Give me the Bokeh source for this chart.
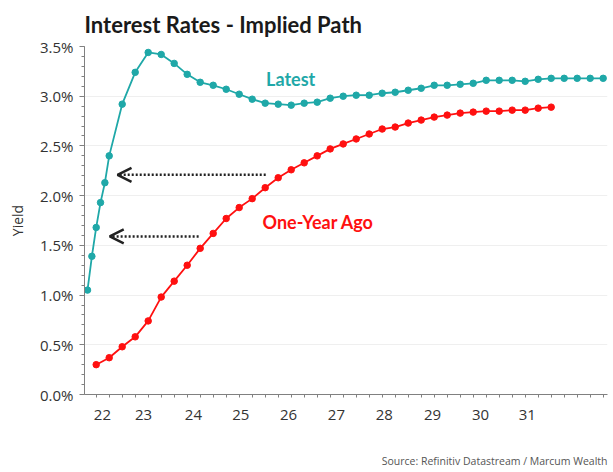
import numpy as np
from bokeh.plotting import figure
from bokeh.models import (FixedTicker, Label, Arrow, OpenHead, Range1d,
                          CustomJSTickFormatter, Title)
from bokeh.embed import file_html
from bokeh.resources import INLINE

# ---- data (x in fractional years, y in %) ----
latest_x = [21.833, 21.917, 22.0, 22.083, 22.167, 22.25,
            22.5, 22.75, 23.0, 23.25, 23.5, 23.75, 24.0, 24.25, 24.5, 24.75,
            25.0, 25.25, 25.5, 25.75, 26.0, 26.25, 26.5, 26.75, 27.0, 27.25,
            27.5, 27.75, 28.0, 28.25, 28.5, 28.75, 29.0, 29.25, 29.5, 29.75,
            30.0, 30.25, 30.5, 30.75, 31.0, 31.25, 31.5, 31.75]
latest_y = [1.05, 1.39, 1.68, 1.93, 2.13, 2.40,
            2.92, 3.24, 3.44, 3.42, 3.33, 3.22, 3.14, 3.11, 3.07, 3.02,
            2.97, 2.93, 2.92, 2.91, 2.93, 2.94, 2.98, 3.00, 3.01, 3.01,
            3.03, 3.04, 3.06, 3.08, 3.11, 3.11, 3.12, 3.13, 3.16, 3.16,
            3.16, 3.15, 3.17, 3.18, 3.18, 3.18, 3.18, 3.18]

ago_x = [22.0, 22.25, 22.5, 22.75, 23.0, 23.25, 23.5, 23.75, 24.0, 24.25,
         24.5, 24.75, 25.0, 25.25, 25.5, 25.75, 26.0, 26.25, 26.5, 26.75,
         27.0, 27.25, 27.5, 27.75, 28.0, 28.25, 28.5, 28.75, 29.0, 29.25,
         29.5, 29.75, 30.0, 30.25, 30.5, 30.75]
ago_y = [0.30, 0.37, 0.48, 0.58, 0.74, 0.98, 1.14, 1.30, 1.47, 1.62,
         1.77, 1.88, 1.97, 2.08, 2.18, 2.26, 2.33, 2.40, 2.47, 2.52,
         2.57, 2.62, 2.67, 2.69, 2.73, 2.76, 2.79, 2.81, 2.83, 2.84,
         2.85, 2.85, 2.86, 2.86, 2.88, 2.89]

x_tick_pos = [22.12, 22.91, 23.87, 24.78, 25.70, 26.62, 27.54, 28.47, 29.39, 30.29]
x_tick_labels = ["22", "23", "24", "25", "26", "27", "28", "29", "30", "31"]
y_ticks = [0.0, 0.5, 1.0, 1.5, 2.0, 2.5, 3.0, 3.5]

TEAL = "#1FA8A8"
RED = "#FF1010"
FONT = "Open Sans"

p = figure(width=613, height=472, output_backend="svg", toolbar_location=None,
           x_range=Range1d(21.775, 31.833), y_range=Range1d(0, 3.5),
           min_border_left=84, min_border_right=6, min_border_top=45,
           min_border_bottom=75)
p.outline_line_color = None
p.background_fill_color = "white"

p.title.text = "Interest Rates - Implied Path"
p.title.text_font = "Lato"
p.title.text_font_size = "22px"
p.title.text_font_style = "bold"
p.title.text_color = "#1a1a1a"
p.title.align = "left"
p.title.standoff = 17

# lines
p.line(latest_x, latest_y, line_color=TEAL, line_width=1.8)
p.scatter(latest_x, latest_y, size=6.5, fill_color=TEAL, line_color=TEAL)
p.line(ago_x, ago_y, line_color=RED, line_width=1.8)
p.scatter(ago_x, ago_y, size=6.5, fill_color=RED, line_color=RED)

# axes
minor_q = list(np.arange(21.75, 31.9, 0.25))
p.xaxis.ticker = FixedTicker(ticks=x_tick_pos, minor_ticks=minor_q)
p.xaxis.major_label_overrides = {t: l for t, l in zip(x_tick_pos, x_tick_labels)}
p.xaxis.major_tick_line_color = None
p.xaxis.minor_tick_out = 3
p.xaxis.minor_tick_in = 0
p.xaxis.minor_tick_line_color = "#808080"
p.xaxis.axis_line_color = "#808080"
p.xaxis.major_label_text_font = FONT
p.xaxis.major_label_text_font_size = "15px"
p.xaxis.major_label_text_color = "#333333"
p.xaxis.major_label_standoff = 9
# blank axis label used only as vertical spacing above the source note
p.xaxis.axis_label = " "
p.xaxis.axis_label_text_font_size = "10px"
p.xaxis.axis_label_standoff = 10

p.yaxis.ticker = FixedTicker(ticks=y_ticks, minor_ticks=list(np.arange(0, 3.51, 0.1)))
p.yaxis.formatter = CustomJSTickFormatter(code="return tick.toFixed(1) + '%';")
p.yaxis.axis_line_color = "#808080"
p.yaxis.major_tick_line_color = "#808080"
p.yaxis.major_tick_out = 5
p.yaxis.major_tick_in = 0
p.yaxis.minor_tick_out = 3
p.yaxis.minor_tick_in = 0
p.yaxis.minor_tick_line_color = "#808080"
p.yaxis.major_label_text_font = FONT
p.yaxis.major_label_text_font_size = "15px"
p.yaxis.major_label_text_color = "#333333"
p.yaxis.major_label_standoff = 6
p.yaxis.axis_label = "Yield"
p.yaxis.axis_label_text_font = FONT
p.yaxis.axis_label_text_font_size = "14px"
p.yaxis.axis_label_text_font_style = "normal"
p.yaxis.axis_label_text_color = "#333333"
p.yaxis.axis_label_standoff = 10

p.xgrid.grid_line_color = None
p.ygrid.ticker = FixedTicker(ticks=y_ticks)
p.ygrid.grid_line_color = "#efefef"

# annotations
p.add_layout(Label(x=25.74, y=3.17, text="Latest", text_font="Lato", text_font_style="bold",
                   text_font_size="18px", text_color=TEAL, text_align="center",
                   text_baseline="middle"))
p.add_layout(Label(x=26.27, y=1.73, text="One-Year Ago", text_font="Lato", text_font_style="bold",
                   text_font_size="18px", text_color=RED, text_align="center",
                   text_baseline="middle"))

p.add_layout(Arrow(end=OpenHead(size=14, line_width=2.5, line_color="#222222"),
                   x_start=25.26, y_start=2.21, x_end=22.41, y_end=2.21,
                   line_color="#222222", line_width=2.5, line_dash="2 2"))
p.add_layout(Arrow(end=OpenHead(size=14, line_width=2.5, line_color="#222222"),
                   x_start=23.97, y_start=1.59, x_end=22.26, y_end=1.59,
                   line_color="#222222", line_width=2.5, line_dash="2 2"))

src = Title(text="Source: Refinitiv Datastream / Marcum Wealth", align="right",
            text_font=FONT, text_font_size="10.5px", text_font_style="normal",
            text_color="#555555", standoff=10)
p.add_layout(src, "below")

open("out.html", "w").write(file_html(p, INLINE))
